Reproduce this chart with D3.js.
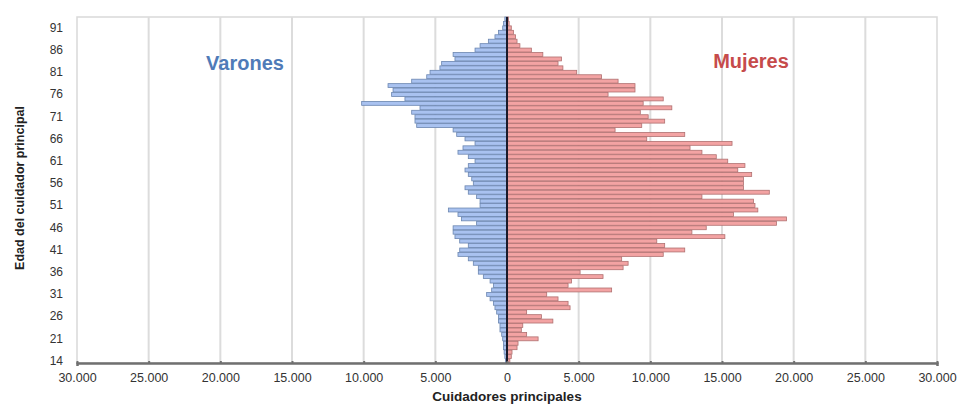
<!DOCTYPE html>
<html>
<head>
<meta charset="utf-8">
<script src="https://cdn.jsdelivr.net/npm/d3@7"></script>
<style>
  body { margin: 0; background: #fff; }
  svg { display: block; font-family: "Liberation Sans", Arial, sans-serif; }
</style>
</head>
<body>
<div id="chart"></div>
<script>
// ages, oldest first (as drawn top to bottom)
var ages = ["93","92","91","90","89","88","87","86","85","84","83","82","81","80","79","78","77","76","75","74",
  "73","72","71","70","69","68","67","66","65","64","63","62","61","60","59","58","57","56","55","54",
  "53","52","51","50","49","48","47","46","45","44","43","42","41","40","39","38","37","36","35","34",
  "33","32","31","30","29","28","27","26","25","24","23","22","21","20","19","18","17","14"];

var varones = [150,250,300,600,840,1300,1880,2230,3760,3630,4560,4680,5370,5600,6650,8300,7950,8050,7120,10140,
  6070,6650,6420,6420,6300,3760,3510,2930,2230,3070,3420,2700,2230,2700,2930,2700,2460,2350,2930,2700,
  2120,1880,1880,4090,3420,3180,2120,3760,3760,3630,3300,2700,3300,3420,2700,2350,2000,2000,1650,1180,
  950,1070,1420,1180,950,840,720,600,600,490,490,370,300,250,250,200,150,100];

var mujeres = [100,150,300,450,600,700,900,1700,2500,3800,3560,3900,4860,6600,7750,8930,8930,7050,10900,9500,
  11500,9300,9850,11000,9400,7540,12400,9750,15700,12770,13600,14600,15400,16600,16100,17070,16500,16500,16500,18300,
  13600,17200,17300,17500,15800,19500,18800,13900,12900,15200,10450,11000,12400,10900,8000,8450,8100,5100,6700,4500,
  4260,7300,2770,3560,4260,4400,1370,2400,3200,1100,1000,1370,2170,770,700,350,300,200];

var xTicks = [-30000,-25000,-20000,-15000,-10000,-5000,0,5000,10000,15000,20000,25000,30000];
var ageLabels = ["91","86","81","76","71","66","61","56","51","46","41","36","31","26","21","14"];

var width = 959, height = 405;
var margin = {top: 17, right: 22, bottom: 42, left: 77};

var svg = d3.select("#chart").append("svg")
  .attr("width", width).attr("height", height);

var x = d3.scaleLinear().domain([-30000, 30000]).range([margin.left, width - margin.right]);
var y = d3.scaleBand().domain(ages).range([margin.top, height - margin.bottom]).paddingInner(0.12);

var fmt = function (v) {
  return d3.format(",")(Math.abs(v)).replace(/,/g, ".");
};

// plot frame
svg.append("rect")
  .attr("x", margin.left).attr("y", margin.top)
  .attr("width", x(30000) - x(-30000)).attr("height", height - margin.bottom - margin.top)
  .attr("fill", "none").attr("stroke", "#d9d9d9").attr("stroke-width", 1.5);

// vertical grid
svg.append("g").selectAll("line").data(xTicks.filter(function (d) { return Math.abs(d) < 30000 && d !== 0; }))
  .join("line")
  .attr("x1", function (d) { return x(d); }).attr("x2", function (d) { return x(d); })
  .attr("y1", margin.top).attr("y2", height - margin.bottom)
  .attr("stroke", "#dcdcdc").attr("stroke-width", 2);

var rows = ages.map(function (a, i) { return {age: a, v: varones[i], m: mujeres[i]}; });

// varones bars
svg.append("g").selectAll("rect").data(rows).join("rect")
  .attr("x", function (d) { return x(-d.v); })
  .attr("y", function (d) { return y(d.age); })
  .attr("width", function (d) { return x(0) - x(-d.v); })
  .attr("height", y.bandwidth())
  .attr("fill", "#a9c2f0").attr("stroke", "#6b86b0").attr("stroke-width", 0.8);

// mujeres bars
svg.append("g").selectAll("rect").data(rows).join("rect")
  .attr("x", x(0))
  .attr("y", function (d) { return y(d.age); })
  .attr("width", function (d) { return x(d.m) - x(0); })
  .attr("height", y.bandwidth())
  .attr("fill", "#f3a3a3").attr("stroke", "#b07070").attr("stroke-width", 0.8);

// centre line
svg.append("line")
  .attr("x1", x(0)).attr("x2", x(0))
  .attr("y1", margin.top).attr("y2", height - margin.bottom)
  .attr("stroke", "#1a1a2a").attr("stroke-width", 2);

// x axis
var xAxis = svg.append("g")
  .attr("transform", "translate(0," + (height - margin.bottom) + ")")
  .call(d3.axisBottom(x).tickValues(xTicks).tickFormat(fmt).tickSize(3).tickPadding(7));
xAxis.select(".domain").attr("stroke", "#707070").attr("stroke-width", 2.5);
xAxis.selectAll(".tick line").attr("stroke", "#707070").attr("stroke-width", 2).attr("transform", "translate(0,-2)");
xAxis.selectAll("text").attr("fill", "#333").attr("font-size", 12.5)
  .attr("font-family", "\"Liberation Sans\", Arial, sans-serif");

// y tick labels
var yAxis = svg.append("g")
  .attr("transform", "translate(" + margin.left + ",0)")
  .call(d3.axisLeft(y).tickValues(ageLabels).tickSize(0).tickPadding(14));
yAxis.select(".domain").remove();
yAxis.selectAll("text").attr("fill", "#333").attr("font-size", 12)
  .attr("font-family", "\"Liberation Sans\", Arial, sans-serif");

// axis titles
svg.append("text")
  .attr("x", x(0)).attr("y", 401)
  .attr("text-anchor", "middle").attr("font-size", 13.5).attr("font-weight", "bold").attr("fill", "#222")
  .text("Cuidadores principales");

svg.append("text")
  .attr("transform", "translate(24,188) rotate(-90)")
  .attr("text-anchor", "middle").attr("font-size", 12.5).attr("font-weight", "bold").attr("fill", "#222")
  .text("Edad del cuidador principal");

// series labels
svg.append("text")
  .attr("x", 245).attr("y", 70)
  .attr("text-anchor", "middle").attr("font-size", 20).attr("font-weight", "bold").attr("fill", "#4f7bb8")
  .text("Varones");

svg.append("text")
  .attr("x", 751).attr("y", 68)
  .attr("text-anchor", "middle").attr("font-size", 20).attr("font-weight", "bold").attr("fill", "#c64b4b")
  .text("Mujeres");
</script>
</body>
</html>
